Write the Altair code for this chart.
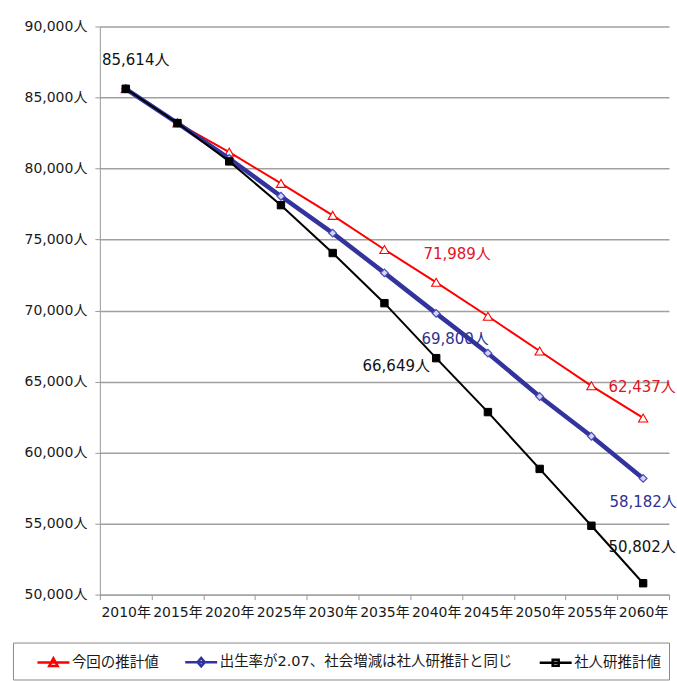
import altair as alt
import pandas as pd

years = ["2010年", "2015年", "2020年", "2025年", "2030年", "2035年",
         "2040年", "2045年", "2050年", "2055年", "2060年"]
series_names = ["今回の推計値", "出生率が2.07、社会増減は社人研推計と同じ", "社人研推計値"]
red_vals = [85614, 83200, 81150, 78950, 76700, 74300, 71989, 69600, 67150, 64700, 62437]
blue_vals = [85614, 83200, 80700, 78050, 75450, 72650, 69800, 67000, 63950, 61150, 58182]
black_vals = [85614, 83200, 80500, 77420, 74050, 70520, 66649, 62850, 58850, 54850, 50802]

series_colors = ["#ff0000", "#33339e", "#000000"]
label_colors = ["#e0141e", "#2e3192", "#111111"]

rows = []
for name, vals in zip(series_names, [red_vals, blue_vals, black_vals]):
    for y, v in zip(years, vals):
        rows.append({"series": name, "year": y, "value": v, "text": f"{v:,}人"})
df = pd.DataFrame(rows)

NUM_FONT = "DejaVu Sans, Noto Sans CJK JP"

x_enc = alt.X("year:N", sort=years,
              scale=alt.Scale(domain=years, paddingInner=0, paddingOuter=0),
              axis=alt.Axis(title=None, labelAngle=0, tickBand="extent", grid=False,
                            domainColor="#9a9a9a", tickColor="#9a9a9a", tickSize=5,
                            labelFont=NUM_FONT, labelFontSize=14, labelColor="#1a1a1a",
                            labelPadding=6))
y_enc = alt.Y("value:Q",
              scale=alt.Scale(domain=[50000, 90000], nice=False, zero=False),
              axis=alt.Axis(title=None, values=list(range(50000, 90001, 5000)),
                            labelExpr="format(datum.value, ',') + '人'",
                            grid=True, gridColor="#a0a0a0", gridWidth=1.5,
                            domainColor="#9a9a9a", tickColor="#9a9a9a", tickSize=5,
                            labelFont=NUM_FONT, labelFontSize=14, labelColor="#1a1a1a",
                            labelPadding=8))

base = alt.Chart(df)
layers = []
line_widths = [2, 4.5, 2]
point_specs = [
    dict(shape="triangle-up", size=85, filled=True, fill="white", stroke="#ff0000", strokeWidth=1.1),
    dict(shape="diamond", size=60, filled=True, fill="#d4d4f4", stroke="#4a4ac0", strokeWidth=1.2),
    dict(shape="square", size=55, filled=True, fill="#000000", stroke="#000000", strokeWidth=1),
]
for name, col, lw, ps in zip(series_names, series_colors, line_widths, point_specs):
    sub = base.transform_filter(alt.datum.series == name)
    layers.append(sub.mark_line(color=col, strokeWidth=lw).encode(x=x_enc, y=y_enc))
    layers.append(sub.mark_point(opacity=1, **ps).encode(x=x_enc, y=y_enc))

# data labels
label_specs = [
    (series_names[2], "2010年", 10, -29, label_colors[2]),
    (series_names[0], "2040年", 21, -28, label_colors[0]),
    (series_names[1], "2040年", 19, 26, label_colors[1]),
    (series_names[2], "2040年", -40, 8, label_colors[2]),
    (series_names[0], "2060年", -1, -31, label_colors[0]),
    (series_names[1], "2060年", 0, 24, label_colors[1]),
    (series_names[2], "2060年", -1, -36, label_colors[2]),
]
for name, yr, dx, dy, col in label_specs:
    layers.append(
        base.transform_filter((alt.datum.series == name) & (alt.datum.year == yr))
        .mark_text(dx=dx, dy=dy, font=NUM_FONT, fontSize=15, color=col)
        .encode(x=x_enc, y=y_enc, text="text:N")
    )

legend_paths = [
    "M-1.6,0H1.6M0,-0.42L0.42,0.34L-0.42,0.34Z",
    "M-1.6,0H1.6M0,-0.42L0.36,0L0,0.42L-0.36,0Z",
    "M-1.6,0H1.6M-0.3,-0.3H0.3V0.3H-0.3Z",
]
leg = alt.Legend(title=None, orient="none", legendX=-87, legendY=617,
                 direction="horizontal", symbolSize=400, symbolStrokeWidth=2.5,
                 symbolOpacity=1, symbolOffset=21, labelFont=NUM_FONT, labelFontSize=14.5,
                 labelColor="#1a1a1a", labelOffset=7, labelLimit=500,
                 columnPadding=10, padding=8, strokeColor="#8a8a8a",
                 fillColor="#ffffff")
layers.append(
    base.mark_point(opacity=0, filled=False).encode(
        x=x_enc, y=y_enc,
        color=alt.Color("series:N", sort=series_names,
                        scale=alt.Scale(domain=series_names, range=series_colors), legend=leg),
        shape=alt.Shape("series:N", sort=series_names,
                        scale=alt.Scale(domain=series_names, range=legend_paths), legend=leg),
    )
)

chart = alt.layer(*layers).properties(
    width=570, height=569,
    padding={"left": 12, "top": 19, "right": 0, "bottom": 0},
    background="#ffffff",
).configure_view(stroke=None)

chart.save("out.html", embed_options={"renderer": "svg", "actions": False})
